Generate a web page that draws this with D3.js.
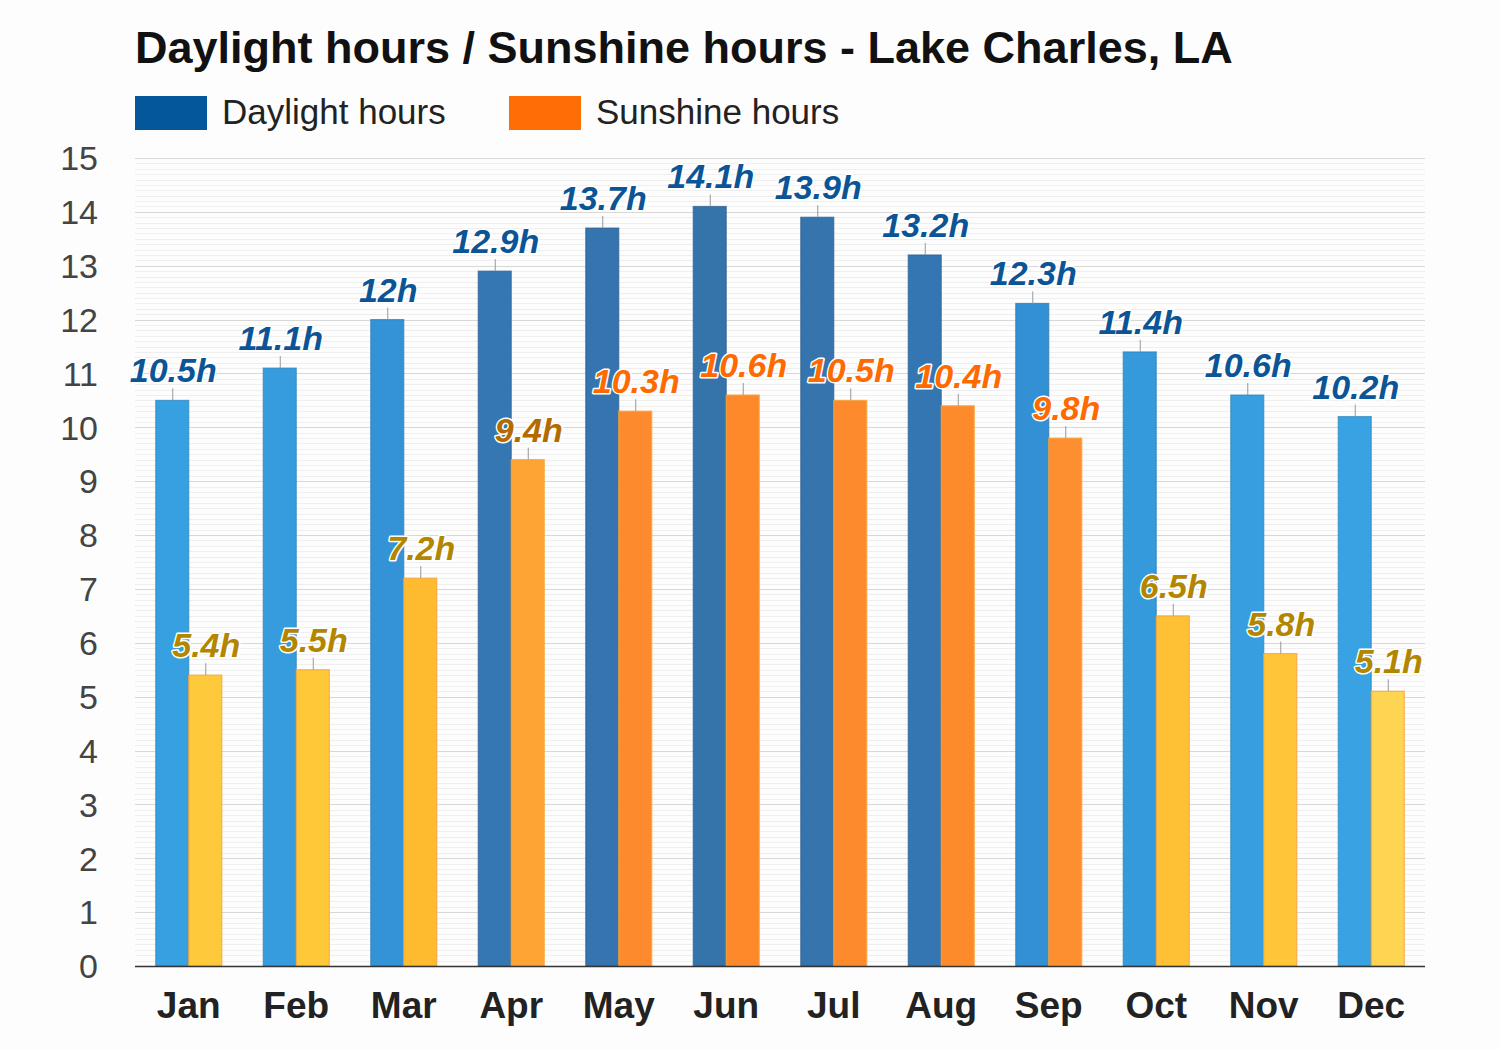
<!DOCTYPE html>
<html><head><meta charset="utf-8">
<script src="https://cdn.jsdelivr.net/npm/d3@7"></script>
<style>
body{margin:0;background:#fdfdfd;}
svg{display:block;font-family:"Liberation Sans",Arial,sans-serif;}
</style></head>
<body><svg id="c" width="1500" height="1050"></svg>
<script>
const months = ["Jan","Feb","Mar","Apr","May","Jun","Jul","Aug","Sep","Oct","Nov","Dec"];
const daylight = [10.5,11.1,12,12.9,13.7,14.1,13.9,13.2,12.3,11.4,10.6,10.2];
const sunshine = [5.4,5.5,7.2,9.4,10.3,10.6,10.5,10.4,9.8,6.5,5.8,5.1];
const daylightLabels = ["10.5h","11.1h","12h","12.9h","13.7h","14.1h","13.9h","13.2h","12.3h","11.4h","10.6h","10.2h"];
const sunshineLabels = ["5.4h","5.5h","7.2h","9.4h","10.3h","10.6h","10.5h","10.4h","9.8h","6.5h","5.8h","5.1h"];
const yTicks = [0,1,2,3,4,5,6,7,8,9,10,11,12,13,14,15];
const seriesNames = ["Daylight hours","Sunshine hours"];

const svg = d3.select("#c");
const L=135, R=1425, T=158, B=966;
const x = d3.scaleBand().domain(months).range([L,R]);
const y = d3.scaleLinear().domain([0,15]).range([B,T]);
const bw = 33;

const dayFill = d3.scaleLinear().domain([10,11.5,12.3,12.9,14.1]).range(["#38a3e3","#3599dc","#3490d4","#3477b3","#3573ab"]).clamp(true);
const dayStroke = v => d3.color(dayFill(v)).darker(0.5);
const sunFill = d3.scaleLinear().domain([5.1,5.4,7.2,9.4,9.8,10.6]).range(["#fed453","#fec93a","#febb30","#fda434","#fd8f30","#fd892b"]).clamp(true);
const sunLabel = v => v < 9 ? "#b38600" : (v < 9.6 ? "#b36b00" : "#ff6a00");

// title
svg.append("text").attr("x",135).attr("y",63).attr("font-size",45).attr("font-weight","bold").attr("fill","#111")
  .text("Daylight hours / Sunshine hours - Lake Charles, LA");
// legend
const leg = [{n:seriesNames[0],c:"#04579b",x:135},{n:seriesNames[1],c:"#ff6d05",x:509}];
leg.forEach(d=>{
  svg.append("rect").attr("x",d.x).attr("y",96).attr("width",72).attr("height",34).attr("fill",d.c);
  svg.append("text").attr("x",d.x+87).attr("y",124).attr("font-size",35).attr("fill","#222").text(d.n);
});

// minor grid
const minor = d3.range(0,150).map(i=>i/10).filter(v=>Math.abs(v-Math.round(v))>1e-6);
svg.append("g").selectAll("line").data(minor).join("line")
  .attr("x1",L).attr("x2",R).attr("y1",d=>Math.round(y(d))+0.5).attr("y2",d=>Math.round(y(d))+0.5)
  .attr("stroke","#efefef").attr("stroke-width",1);
// major grid
svg.append("g").selectAll("line").data(yTicks.slice(1)).join("line")
  .attr("x1",L).attr("x2",R).attr("y1",d=>Math.round(y(d))+0.5).attr("y2",d=>Math.round(y(d))+0.5)
  .attr("stroke","#d8d8d8").attr("stroke-width",1);

// y labels
svg.append("g").selectAll("text").data(yTicks).join("text")
  .attr("x",98).attr("y",d=>y(d)).attr("dy","0.36em").attr("text-anchor","end")
  .attr("font-size",34).attr("fill","#444").text(d=>d);

// bars
const g = svg.append("g");
months.forEach((m,i)=>{
  const cx = x(m)+x.bandwidth()/2;
  const dv = daylight[i], sv = sunshine[i];
  g.append("rect").attr("x",cx-bw).attr("y",y(dv)).attr("width",bw).attr("height",B-y(dv))
    .attr("fill",dayFill(dv)).attr("stroke",dayStroke(dv)).attr("stroke-width",1.2).attr("stroke-opacity",0.7);
  g.append("rect").attr("x",cx).attr("y",y(sv)).attr("width",bw).attr("height",B-y(sv))
    .attr("fill",sunFill(sv)).attr("stroke","#f6a23a").attr("stroke-width",1.2).attr("stroke-opacity",0.8);
  [[cx-bw/2,dv],[cx+bw/2,sv]].forEach(([px,v])=>{
    g.append("line").attr("x1",px+0.5).attr("x2",px+0.5).attr("y1",y(v)).attr("y2",y(v)-12)
      .attr("stroke","#999").attr("stroke-width",1);
  });
});
// labels
months.forEach((m,i)=>{
  const cx = x(m)+x.bandwidth()/2;
  const dv = daylight[i], sv = sunshine[i];
  svg.append("text").attr("x",cx-bw/2+1).attr("y",y(dv)-18).attr("text-anchor","middle")
    .attr("font-size",34).attr("font-weight","bold").attr("font-style","italic")
    .attr("fill","#0b5597").attr("stroke","#fff").attr("stroke-width",3).attr("paint-order","stroke")
    .attr("stroke-linejoin","round").text(daylightLabels[i]);
  svg.append("text").attr("x",cx+bw/2+1).attr("y",y(sv)-18).attr("text-anchor","middle")
    .attr("font-size",34).attr("font-weight","bold").attr("font-style","italic")
    .attr("fill",sunLabel(sv)).attr("stroke","#fff").attr("stroke-width",3).attr("paint-order","stroke")
    .attr("stroke-linejoin","round").text(sunshineLabels[i]);
});

// x axis
svg.append("line").attr("x1",L).attr("x2",R).attr("y1",B+0.5).attr("y2",B+0.5).attr("stroke","#333").attr("stroke-width",1.5);
svg.append("g").selectAll("text").data(months).join("text")
  .attr("x",d=>x(d)+x.bandwidth()/2).attr("y",1018).attr("text-anchor","middle")
  .attr("font-size",37).attr("font-weight","bold").attr("fill","#222").text(d=>d);
</script></body></html>
